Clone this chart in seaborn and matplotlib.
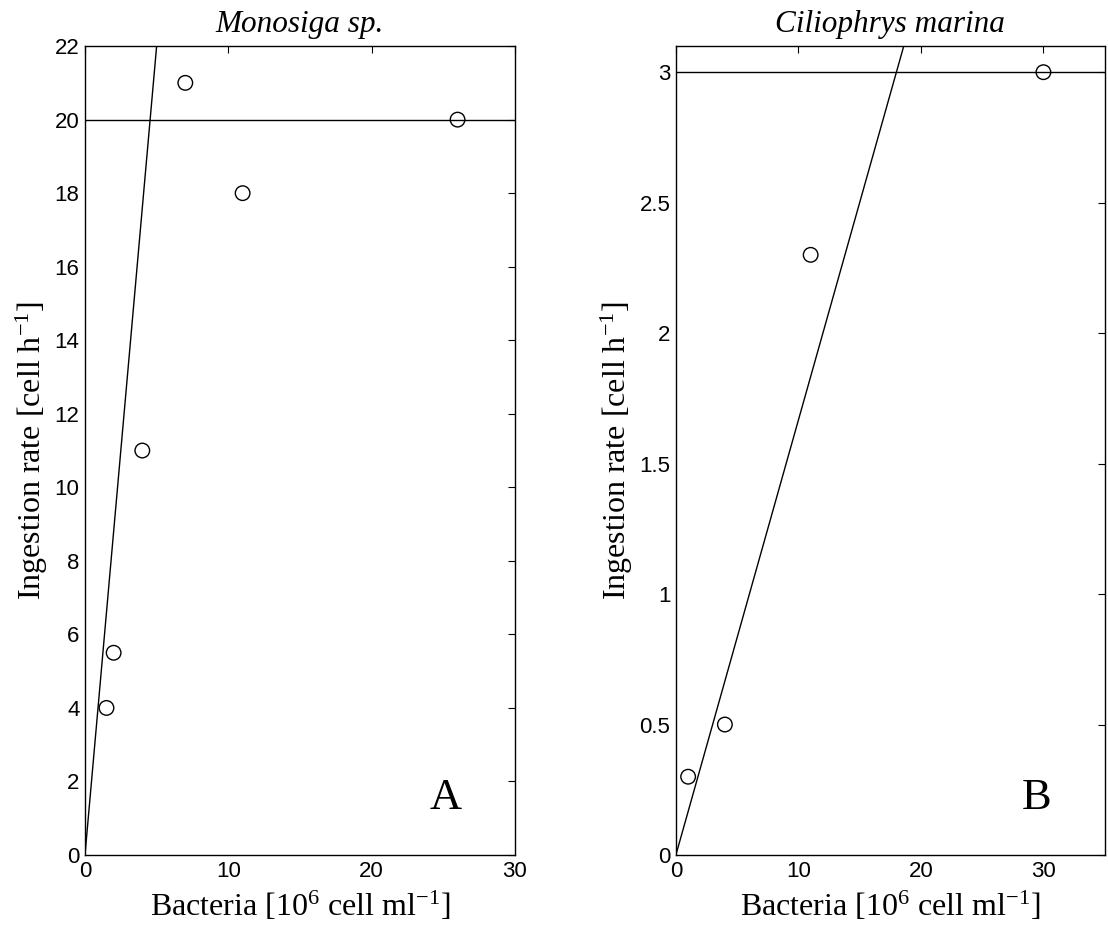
import numpy as np
import pandas as pd
import seaborn as sns
import matplotlib.pyplot as plt

sns.set_theme()
sns.set_style('white')
plt.rcParams['mathtext.fontset'] = 'custom'
plt.rcParams['mathtext.rm'] = 'Liberation Serif'
plt.rcParams['mathtext.it'] = 'Liberation Serif:italic'

# Monosiga sp. (panel A)
bact_a = [1.5, 2, 4, 7, 11, 26]
ingest_a = [4, 5.5, 11, 21, 18, 20]
slope_a = 4.4
imax_a = 20

# Ciliophrys marina (panel B)
bact_b = [1, 4, 11, 30]
ingest_b = [0.3, 0.5, 2.3, 3]
slope_b = 1 / 6
imax_b = 3

titles = ['Monosiga sp.', 'Ciliophrys marina']
letters = ['A', 'B']

fig = plt.figure(figsize=(11.08, 9.33), dpi=100)
ax_a = fig.add_axes([0.0767, 0.0836, 0.388, 0.867])
ax_b = fig.add_axes([0.610, 0.0836, 0.387, 0.867])

panels = [
    (ax_a, bact_a, ingest_a, slope_a, imax_a, (0, 30), (0, 22), np.arange(0, 23, 2), [0, 10, 20, 30]),
    (ax_b, bact_b, ingest_b, slope_b, imax_b, (0, 35), (0, 3.1), [0, 0.5, 1, 1.5, 2, 2.5, 3], [0, 10, 20, 30]),
]

for i, (ax, bx, iy, slope, imax, xl, yl, yt, xt) in enumerate(panels):
    pts = pd.DataFrame({'bact': bx, 'ingest': iy})
    fit_x = np.array([0, xl[1]])
    fit = pd.DataFrame({'bact': fit_x, 'ingest': slope * fit_x})

    sns.lineplot(fit, x='bact', y='ingest', ax=ax, color='black', linewidth=1)
    ax.axhline(imax, color='black', linewidth=1)
    sns.scatterplot(pts, x='bact', y='ingest', ax=ax, marker='o', s=110,
                    facecolor='none', edgecolor='black', linewidth=1, zorder=3)

    ax.set_xlim(*xl)
    ax.set_ylim(*yl)
    ax.set_xticks(xt)
    ax.set_yticks(yt)
    ax.set_yticklabels([f'{v:g}' for v in yt])
    ax.tick_params(direction='in', length=5, width=0.8, top=True, right=True,
                   labelsize=16, colors='black', pad=4)
    for lab in ax.get_xticklabels() + ax.get_yticklabels():
        lab.set_family('Liberation Sans')
    for sp in ax.spines.values():
        sp.set_color('black')
        sp.set_linewidth(1)

    ax.set_xlabel(r'Bacteria [10$^6$ cell ml$^{-1}$]', family='Liberation Serif',
                  fontsize=23, color='black', labelpad=6)
    ax.set_ylabel(r'Ingestion rate [cell h$^{-1}$]', family='Liberation Serif',
                  fontsize=23, color='black', labelpad=3)
    ax.set_title(titles[i], family='Liberation Serif', style='italic',
                 fontsize=22.5, color='black', pad=10)
    ax.text(0.84, 0.07, letters[i], transform=ax.transAxes, family='Liberation Serif',
            fontsize=32, ha='center', va='center', color='black')

fig.savefig('out.png', dpi=100)
